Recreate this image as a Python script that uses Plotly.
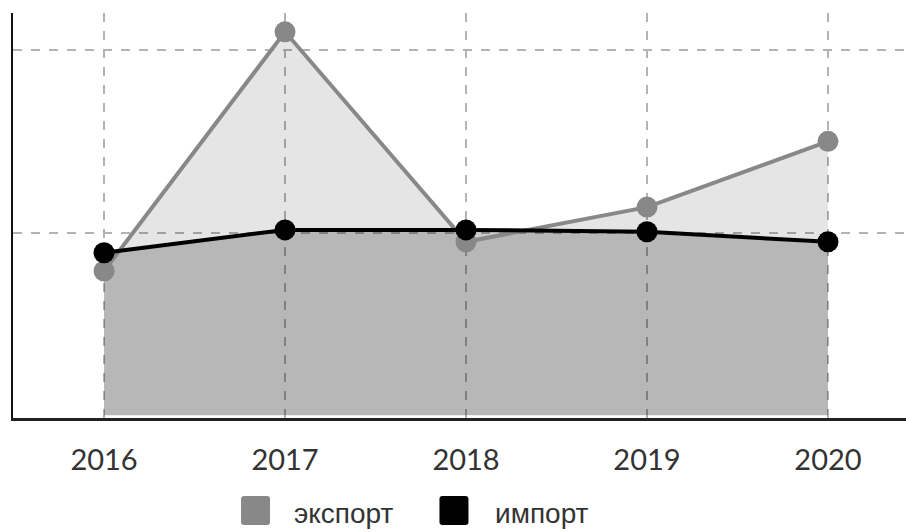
import plotly.graph_objects as go

# chart data
years = ["2016", "2017", "2018", "2019", "2020"]
export_vals = [0.79, 2.10, 0.95, 1.14, 1.50]
import_vals = [0.89, 1.015, 1.015, 1.005, 0.95]
series_names = ["экспорт", "импорт"]

GREY = "#888888"
BLACK = "#000000"
TXT = "#333333"
TICK_FONT = "Lato, Liberation Sans, sans-serif"
LEG_FONT = "Liberation Sans, Arial, sans-serif"


def rounded_square(half, r):
    """path of a rounded square centred on its anchor, in pixels"""
    h = half
    return (
        f"M {-h + r},{-h} L {h - r},{-h} Q {h},{-h} {h},{-h + r} "
        f"L {h},{h - r} Q {h},{h} {h - r},{h} L {-h + r},{h} "
        f"Q {-h},{h} {-h},{h - r} L {-h},{-h + r} Q {-h},{-h} {-h + r},{-h} Z"
    )


fig = go.Figure()

# fills first so both lines sit above them
fig.add_trace(
    go.Scatter(
        x=years, y=export_vals, mode="none", fill="tozeroy",
        fillcolor="rgba(0,0,0,0.10)", showlegend=False, hoverinfo="skip",
    )
)
fig.add_trace(
    go.Scatter(
        x=years, y=import_vals, mode="none", fill="tozeroy",
        fillcolor="rgba(0,0,0,0.20)", showlegend=False, hoverinfo="skip",
    )
)
fig.add_trace(
    go.Scatter(
        x=years, y=export_vals, mode="lines+markers", name=series_names[0],
        line={"color": GREY, "width": 4},
        marker={"color": GREY, "size": 21},
        showlegend=False,
    )
)
fig.add_trace(
    go.Scatter(
        x=years, y=import_vals, mode="lines+markers", name=series_names[1],
        line={"color": BLACK, "width": 4},
        marker={"color": BLACK, "size": 21},
        showlegend=False,
    )
)

# hand-made legend below the axis
legend_items = [
    (series_names[0], GREY, 0.2716, 0.3124),
    (series_names[1], BLACK, 0.4938, 0.5375),
]
for name, color, sx, tx in legend_items:
    fig.add_shape(
        type="path", xref="paper", yref="paper",
        xsizemode="pixel", ysizemode="pixel",
        xanchor=sx, yanchor=-0.2284,
        path=rounded_square(14.5, 3),
        fillcolor=color, line={"width": 0},
    )
    fig.add_annotation(
        x=tx, y=-0.236, xref="paper", yref="paper",
        text=name, showarrow=False, xanchor="left", yanchor="middle",
        font={"size": 28, "family": LEG_FONT, "color": TXT},
    )

fig.update_xaxes(
    range=[-0.503, 4.431],
    showgrid=True, gridcolor="#b3b3b3", griddash="dash", gridwidth=1.5,
    showline=True, linecolor="#222222", linewidth=3,
    ticks="", ticklabelstandoff=14,
    tickfont={"size": 29, "family": TICK_FONT, "color": TXT},
)
fig.update_yaxes(
    range=[-0.015, 2.203],
    tickvals=[1, 2], showticklabels=False,
    showgrid=True, gridcolor="#b3b3b3", griddash="dash", gridwidth=1.5,
    zeroline=False,
    showline=True, linecolor="#111111", linewidth=2,
)

fig.update_layout(
    width=906,
    height=532,
    margin={"l": 13, "r": 0, "t": 13, "b": 114},
    plot_bgcolor="white",
    paper_bgcolor="white",
    font={"family": TICK_FONT, "color": TXT},
    showlegend=False,
)

# drop the page's default body margin so the figure sits at the corner
fig.write_html(
    "out.html",
    config={"displayModeBar": False},
    post_script="document.body.style.margin='0';",
)
